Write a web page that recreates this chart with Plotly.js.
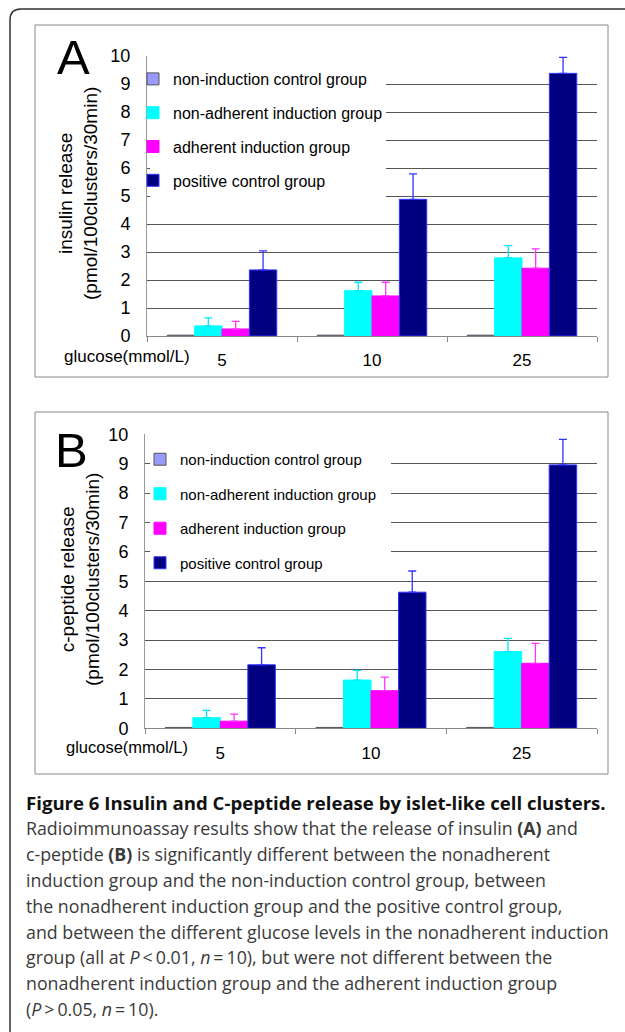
<!DOCTYPE html>
<html>
<head>
<meta charset="utf-8">
<script src="https://cdn.plot.ly/plotly-3.0.1.min.js"></script>
<style>
html,body{margin:0;padding:0;background:#fff;}
#chart{width:625px;height:1032px;}
</style>
</head>
<body>
<div id="chart"></div>
<script>
// ---- data ----
var categories = ['5', '10', '25'];
var seriesNames = ['non-induction control group', 'non-adherent induction group', 'adherent induction group', 'positive control group'];

// Panel A: insulin release
var insulinControl = [0.03, 0.03, 0.03];
var insulinNonAdherent = [0.36, 1.62, 2.79];
var insulinAdherent = [0.25, 1.43, 2.42];
var insulinPositive = [2.36, 4.88, 9.38];
var insulinNonAdherentErr = [0.29, 0.30, 0.44];
var insulinAdherentErr = [0.27, 0.49, 0.69];
var insulinPositiveErr = [0.68, 0.91, 0.57];

// Panel B: c-peptide release
var cpepControl = [0.03, 0.03, 0.03];
var cpepNonAdherent = [0.36, 1.64, 2.61];
var cpepAdherent = [0.24, 1.28, 2.21];
var cpepPositive = [2.16, 4.63, 8.96];
var cpepNonAdherentErr = [0.25, 0.33, 0.45];
var cpepAdherentErr = [0.24, 0.46, 0.68];
var cpepPositiveErr = [0.58, 0.72, 0.87];
var noLowerErr = [0, 0, 0];

var yTicks = [0, 1, 2, 3, 4, 5, 6, 7, 8, 9, 10];

var captionLines = [
  '<b>Figure 6 Insulin and C-peptide release by islet-like cell clusters.</b>',
  'Radioimmunoassay results show that the release of insulin <b>(A)</b> and',
  'c-peptide <b>(B)</b> is significantly different between the nonadherent',
  'induction group and the non-induction control group, between',
  'the nonadherent induction group and the positive control group,',
  'and between the different glucose levels in the nonadherent induction',
  'group (all at <i>P</i>\u2009&lt;\u20090.01, <i>n</i>\u2009=\u200910), but were not different between the',
  'nonadherent induction group and the adherent induction group',
  '(<i>P</i>\u2009&gt;\u20090.05, <i>n</i>\u2009=\u200910).'
];

// ---- helpers ----
var W = 625, H = 1032;
function px(x) { return x / W; }
function py(y) { return 1 - y / H; }

var colors = ['#9999FF', '#00FFFF', '#FF00FF', '#000080'];
var lineColors = ['#555555', '#00FFFF', '#FF00FF', '#3333FF'];
var errColors = ['#3333FF', '#00E5FF', '#FF33FF', '#3333FF'];

function makeTraces(vals, errs, xa, ya, legendName) {
  var out = [];
  for (var i = 0; i < 4; i++) {
    var t = {
      type: 'bar',
      x: categories,
      y: vals[i],
      name: seriesNames[i],
      xaxis: xa, yaxis: ya,
      legend: legendName,
      legendgroup: legendName + i,
      marker: { color: colors[i], line: { color: lineColors[i], width: 1 } },
      hoverinfo: 'skip'
    };
    if (errs[i]) {
      t.error_y = { type: 'data', symmetric: false, array: errs[i], arrayminus: noLowerErr,
                    color: errColors[i], thickness: 1.3, width: 4 };
    }
    out.push(t);
  }
  return out;
}

var traces = []
  .concat(makeTraces([insulinControl, insulinNonAdherent, insulinAdherent, insulinPositive],
                     [null, insulinNonAdherentErr, insulinAdherentErr, insulinPositiveErr], 'x', 'y', 'legend'))
  .concat(makeTraces([cpepControl, cpepNonAdherent, cpepAdherent, cpepPositive],
                     [null, cpepNonAdherentErr, cpepAdherentErr, cpepPositiveErr], 'x2', 'y2', 'legend2'));

var baseFont = 'Liberation Sans, Arial, sans-serif';

function xAxis(domain, anchor) {
  return {
    domain: domain, anchor: anchor, type: 'category', range: [-0.5, 2.5],
    showline: true, linecolor: '#888', linewidth: 1,
    ticks: 'outside', tickson: 'boundaries', ticklen: 5, tickcolor: '#888',
    tickfont: { family: baseFont, size: 17, color: '#000' },
    ticklabelstandoff: 9,
    showgrid: false, zeroline: false, fixedrange: true
  };
}
function yAxis(domain, anchor) {
  return {
    domain: domain, anchor: anchor, range: [0, 10],
    tickmode: 'array', tickvals: yTicks, ticktext: yTicks.map(String),
    showgrid: true, gridcolor: '#555', gridwidth: 1,
    showline: true, linecolor: '#999', linewidth: 1,
    ticks: '', ticklabelstandoff: 12,
    tickfont: { family: baseFont, size: 18, color: '#000' },
    zeroline: false, fixedrange: true
  };
}

var annotations = [
  { text: 'A', x: px(73), y: py(57), xref: 'paper', yref: 'paper', showarrow: false,
    xanchor: 'center', yanchor: 'middle', font: { family: baseFont, size: 49, color: '#000' } },
  { text: 'B', x: px(71), y: py(450), xref: 'paper', yref: 'paper', showarrow: false,
    xanchor: 'center', yanchor: 'middle', font: { family: baseFont, size: 49, color: '#000' } },
  { text: 'insulin release<br>(pmol/100clusters/30min)', x: px(78), y: py(194), xref: 'paper', yref: 'paper',
    showarrow: false, textangle: -90, xanchor: 'center', yanchor: 'middle',
    font: { family: baseFont, size: 19, color: '#000' } },
  { text: 'c-peptide release<br>(pmol/100clusters/30min)', x: px(80), y: py(580), xref: 'paper', yref: 'paper',
    showarrow: false, textangle: -90, xanchor: 'center', yanchor: 'middle',
    font: { family: baseFont, size: 19, color: '#000' } },
  { text: 'glucose(mmol/L)', x: px(62), y: py(357), xref: 'paper', yref: 'paper', showarrow: false,
    xanchor: 'left', yanchor: 'middle', font: { family: baseFont, size: 17, color: '#000' } },
  { text: 'glucose(mmol/L)', x: px(64), y: py(747), xref: 'paper', yref: 'paper', showarrow: false,
    xanchor: 'left', yanchor: 'middle', font: { family: baseFont, size: 16.5, color: '#000' } }
];
for (var k = 0; k < captionLines.length; k++) {
  annotations.push({
    text: captionLines[k], x: px(24), y: py(802 + 25.9 * k), xref: 'paper', yref: 'paper',
    showarrow: false, xanchor: 'left', yanchor: 'middle', align: 'left',
    font: { family: 'Open Sans, Noto Sans, sans-serif', size: k === 0 ? 18.6 : 17.8, color: k === 0 ? '#111' : '#3a3a3a' }
  });
}

var shapes = [
  { type: 'path', xref: 'paper', yref: 'paper',
    path: 'M ' + px(10) + ' ' + py(1045) + ' L ' + px(10) + ' ' + py(20) + ' Q ' + px(10) + ' ' + py(9) + ' ' + px(21) + ' ' + py(9) + ' L ' + px(640) + ' ' + py(9),
    line: { color: '#333', width: 1.5 } },
  { type: 'rect', xref: 'paper', yref: 'paper', x0: px(35), x1: px(608), y0: py(25), y1: py(377),
    line: { color: '#888', width: 1 } },
  { type: 'rect', xref: 'paper', yref: 'paper', x0: px(35), x1: px(608), y0: py(412), y1: py(774),
    line: { color: '#888', width: 1 } },
  // white backing behind the legends (gridlines hidden there, axis line kept)
  { type: 'rect', xref: 'paper', yref: 'paper', layer: 'above', x0: px(150), x1: px(386), y0: py(64), y1: py(203),
    fillcolor: '#fff', line: { width: 0 } },
  { type: 'rect', xref: 'paper', yref: 'paper', layer: 'above', x0: px(150), x1: px(391), y0: py(445), y1: py(570),
    fillcolor: '#fff', line: { width: 0 } }
];

var layout = {
  width: W, height: H,
  margin: { l: 0, r: 0, t: 0, b: 0 },
  paper_bgcolor: '#fff', plot_bgcolor: 'rgba(0,0,0,0)',
  barmode: 'group', bargap: 0.27, bargroupgap: 0,
  font: { family: baseFont, color: '#000' },
  xaxis: xAxis([px(147), px(597)], 'y'),
  yaxis: yAxis([py(336), py(56)], 'x'),
  xaxis2: xAxis([px(145), px(597)], 'y2'),
  yaxis2: yAxis([py(728.3), py(434.3)], 'x2'),
  legend: { x: px(133), y: py(62), xanchor: 'left', yanchor: 'top', bgcolor: 'rgba(0,0,0,0)', borderwidth: 0,
            traceorder: 'grouped', tracegroupgap: 10, font: { family: baseFont, size: 16, color: '#000' } },
  legend2: { x: px(140), y: py(443), xanchor: 'left', yanchor: 'top', bgcolor: 'rgba(0,0,0,0)', borderwidth: 0,
             traceorder: 'grouped', tracegroupgap: 12, font: { family: baseFont, size: 15, color: '#000' } },
  showlegend: true,
  annotations: annotations,
  shapes: shapes
};

Plotly.newPlot('chart', traces, layout, { staticPlot: true, displayModeBar: false });
</script>
</body>
</html>
